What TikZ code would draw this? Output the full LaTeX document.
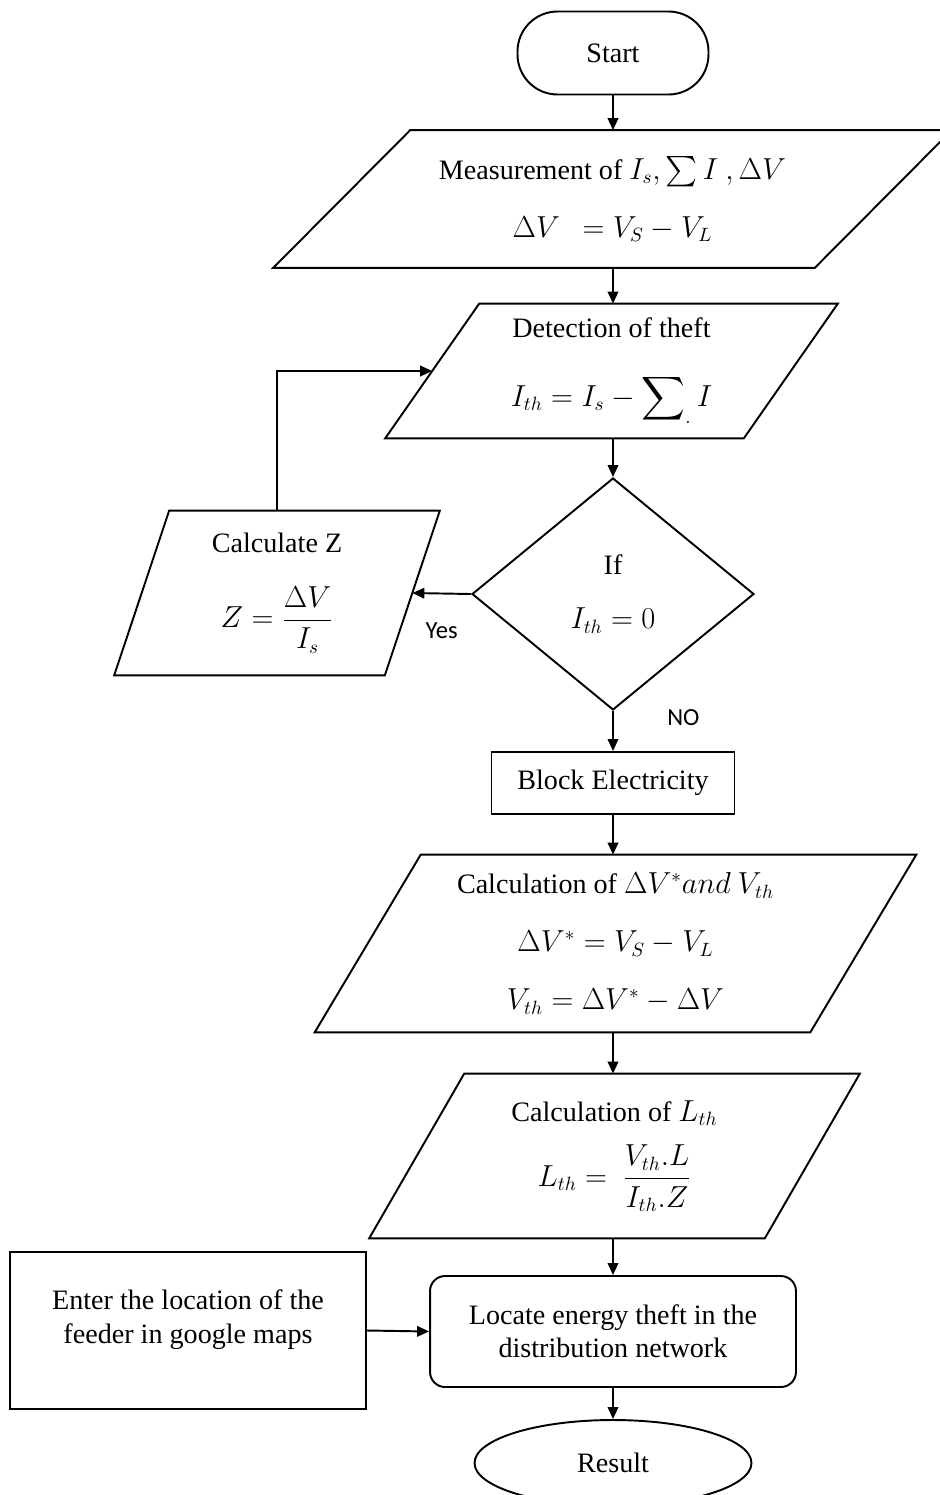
\documentclass[tikz,border=0pt]{standalone}
\usepackage{amsmath}
\usepackage{fontspec}
\setmainfont{Liberation Serif}
\newfontfamily\labelfont{Carlito}
\usetikzlibrary{shapes.geometric,arrows.meta,positioning}

% parallelogram outline round a text node: #1 node name, #2 half of the slant
\newcommand{\ioframe}[2]{%
  \draw[line width=1.1pt] ([xshift=#2]#1.north west) -- ([xshift=#2]#1.north east)
    -- ([xshift=-#2]#1.south east) -- ([xshift=-#2]#1.south west) -- cycle;}

\begin{document}
\begin{tikzpicture}[
  x=0.02cm, y=-0.02cm,
  base/.style={draw, line width=1.1pt, align=center, inner sep=2pt,
               font=\fontsize{16}{19}\selectfont},
  terminal/.style={base, rectangle, rounded corners=0.8cm, minimum width=3.82cm,
                   minimum height=1.66cm},
  io/.style={rectangle, align=center, inner sep=2pt,
             font=\fontsize{16}{33}\selectfont},
  decision/.style={base, diamond, inner sep=0pt, minimum width=5.64cm,
                   minimum height=4.64cm, font=\fontsize{16}{31}\selectfont},
  process/.style={base, rectangle},
  outcome/.style={base, ellipse, minimum width=5.54cm, minimum height=1.72cm},
  branch/.style={font=\labelfont\fontsize{14}{16}\selectfont},
  edge/.style={draw, line width=1.1pt, -{Triangle[length=2.4mm, width=2.1mm]}},
]
  \useasboundingbox (0,0) rectangle (940,1495);

  % ===== Main column =====
  \node[terminal] (start) at (613,53) {Start};

  \node[io, minimum width=10.82cm, minimum height=2.74cm] (meas) at (612.5,199)
       {Measurement of $I_s, \sum I\ , \Delta V$\\ $\Delta V\ \ = V_S - V_L$};
  \ioframe{meas}{1.37cm}

  \node[io, minimum width=7.16cm, minimum height=2.68cm] (det) at (611.5,371)
       {Detection of theft\\[6pt] $\displaystyle I_{th} = I_s - \sum\nolimits_{.} I$};
  \ioframe{det}{0.94cm}

  \node[decision] (test) at (613,594) {If\\ $I_{th} = 0$};

  \node[io, minimum width=5.4cm, minimum height=3.28cm] (calcz) at (277,593)
       {Calculate Z\\[10pt] $Z = \dfrac{\Delta V}{I_s}$};
  \ioframe{calcz}{0.55cm}

  \node[process, minimum width=4.86cm, minimum height=1.24cm] (block) at (613,783)
       {Block Electricity};

  \node[io, minimum width=9.9cm, minimum height=3.54cm] (calcv) at (615.5,943.5)
       {Calculation of $\Delta V^{*} and\ V_{th}$\\ $\Delta V^{*} = V_S - V_L$\\
        $V_{th} = \Delta V^{*} - \Delta V$};
  \ioframe{calcv}{1.06cm}

  \node[io, minimum width=7.9cm, minimum height=3.28cm] (calcl) at (614.5,1156)
       {Calculation of $L_{th}$\\[4pt] $L_{th} =\ \dfrac{V_{th}.L}{I_{th}.Z}$};
  \ioframe{calcl}{0.95cm}

  \node[process, rounded corners=0.3cm, minimum width=7.32cm, minimum height=2.22cm]
       (locate) at (613,1331.5) {Locate energy theft in the\\ distribution network};

  \node[process, minimum width=7.12cm, minimum height=3.14cm, text depth=0.55cm]
       (enter) at (188,1330.5) {Enter the location of the\\ feeder in google maps};

  \node[outcome] (result) at (613,1463) {Result};

  % ===== Connectors =====
  \draw[edge] (start.south) -- (start.south |- meas.north);
  \draw[edge] (test.north |- meas.south) -- (test.north |- det.north);
  \draw[edge] (test.north |- det.south) -- (test.north);
  \draw[edge] (test.west) -- (calcz.east)
        node[midway, below=0.45cm, branch] {Yes};
  \draw[edge] (calcz.north) |- (det.west);
  \draw[edge] (test.south) -- (block.north)
        node[pos=0.17, right=0.95cm, branch] {NO};
  \draw[edge] (block.south) -- (block.south |- calcv.north);
  \draw[edge] (block.south |- calcv.south) -- (block.south |- calcl.north);
  \draw[edge] (block.south |- calcl.south) -- (locate.north);
  \draw[edge] (enter.east) -- (locate.west);
  \draw[edge] (locate.south) -- (result.north);

\end{tikzpicture}
\end{document}
